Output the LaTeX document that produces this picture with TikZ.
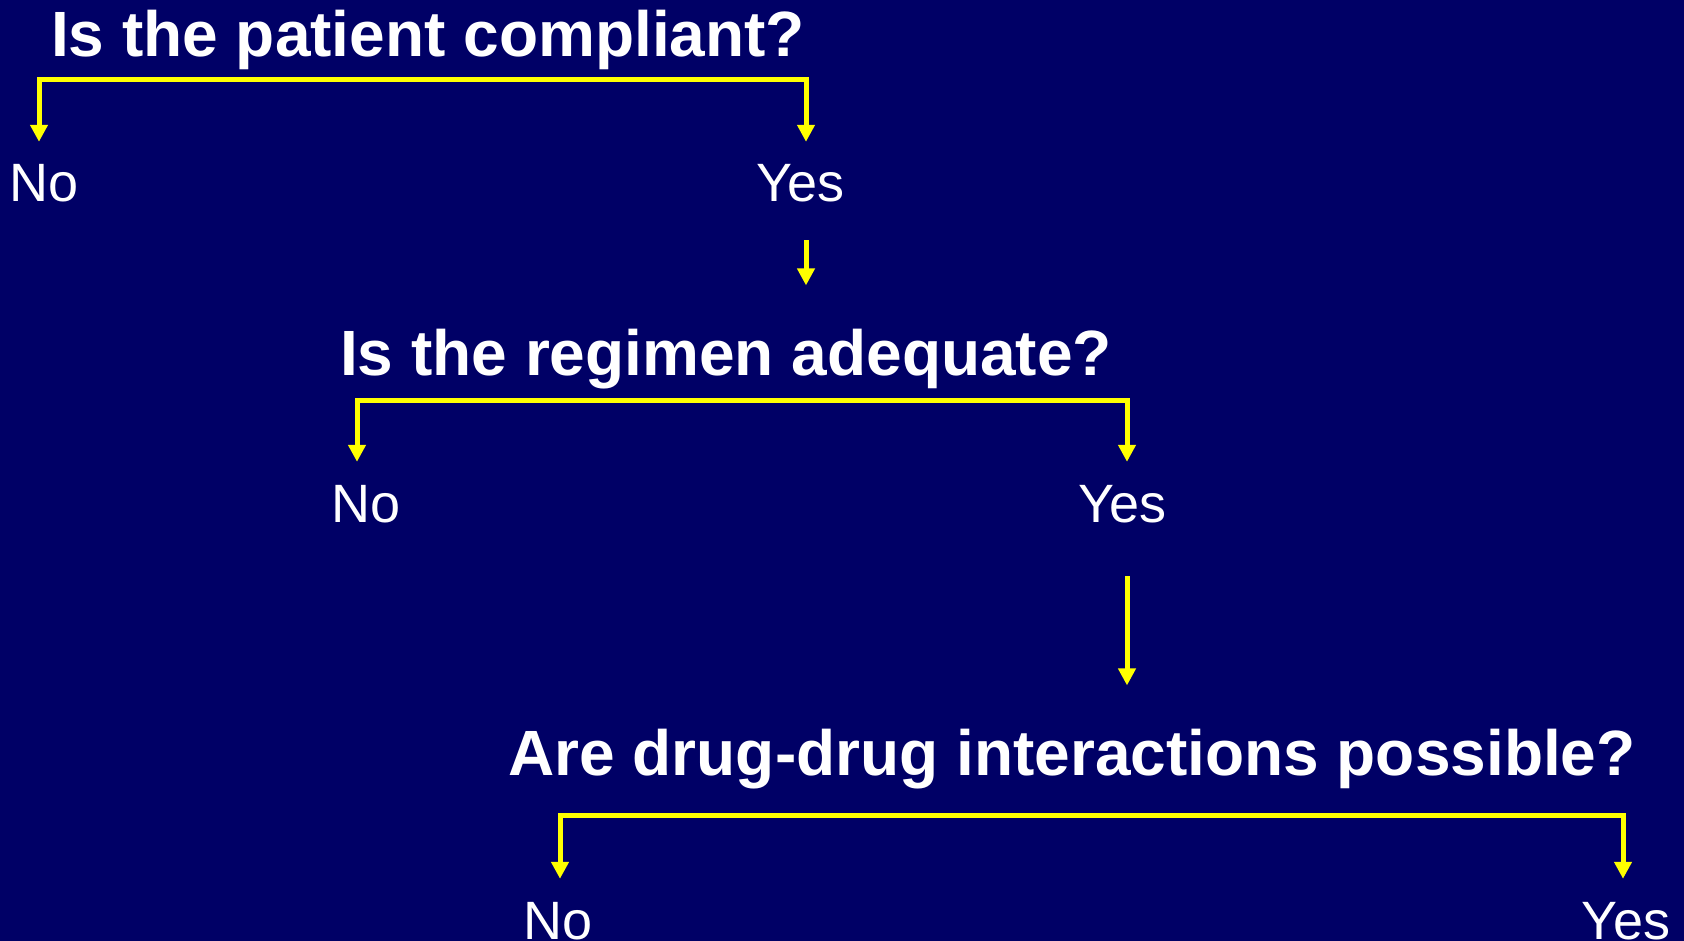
\documentclass[tikz,border=0pt]{standalone}
\usepackage{fontspec}
\setmainfont{Liberation Sans}
\usetikzlibrary{arrows.meta}
\definecolor{bgnavy}{HTML}{000066}
\definecolor{arryellow}{HTML}{FFFF00}
\tikzset{
  question/.style={text=white, font=\fontsize{64}{70}\selectfont\bfseries, inner sep=0pt, anchor=base},
  answer/.style={text=white, font=\fontsize{54}{60}\selectfont, inner xsep=0pt, inner ysep=21pt, text height=39pt, text depth=0pt, anchor=base},
  yl/.style={draw=arryellow, line width=5pt, line join=miter},
  tipboth/.style={yl, {Triangle[length=17pt,width=17pt]}-{Triangle[length=17pt,width=17pt]}},
  tipone/.style={yl, -{Triangle[length=17pt,width=17pt]}}
}
\begin{document}
\begin{tikzpicture}[x=1pt,y=-1pt]
\fill[bgnavy] (0,0) rectangle (1684,941);
\useasboundingbox (0,0) rectangle (1684,941);
% questions
\node[question] (q1) at (428,57) {Is the patient compliant?};
\node[question] (q2) at (726,375) {Is the regimen adequate?};
\node[question] (q3) at (1072,775) {Are drug-drug interactions possible?};
% answers
\node[answer] (n1) at (44.5,202) {No};
\node[answer] (y1) at (800.5,202) {Yes};
\node[answer] (n2) at (366,522) {No};
\node[answer] (y2) at (1122.5,522) {Yes};
\node[answer] (n3) at (558,939) {No};
\node[answer] (y3) at (1626,939) {Yes};
% bracket corners
\coordinate (c1l) at (39,80);
\coordinate (c1r) at (806,80);
\coordinate (c2l) at (357,400);
\coordinate (c2r) at (1127,400);
\coordinate (c3l) at (560,815.5);
\coordinate (c3r) at (1623,815.5);
% brackets
\draw[tipboth] (c1l |- n1.north) -- (c1l) -- (c1r) -- (c1r |- y1.north);
\draw[tipboth] (c2l |- n2.north) -- (c2l) -- (c2r) -- (c2r |- y2.north);
\draw[tipboth] (c3l |- n3.north) -- (c3l) -- (c3r) -- (c3r |- y3.north);
% yes -> next question
\draw[tipone, shorten <=17pt, shorten >=43pt] (c1r |- y1.south) -- (c1r |- q2.north);
\draw[tipone, shorten <=33pt, shorten >=43pt] (c2r |- y2.south) -- (c2r |- q3.north);
\end{tikzpicture}
\end{document}
